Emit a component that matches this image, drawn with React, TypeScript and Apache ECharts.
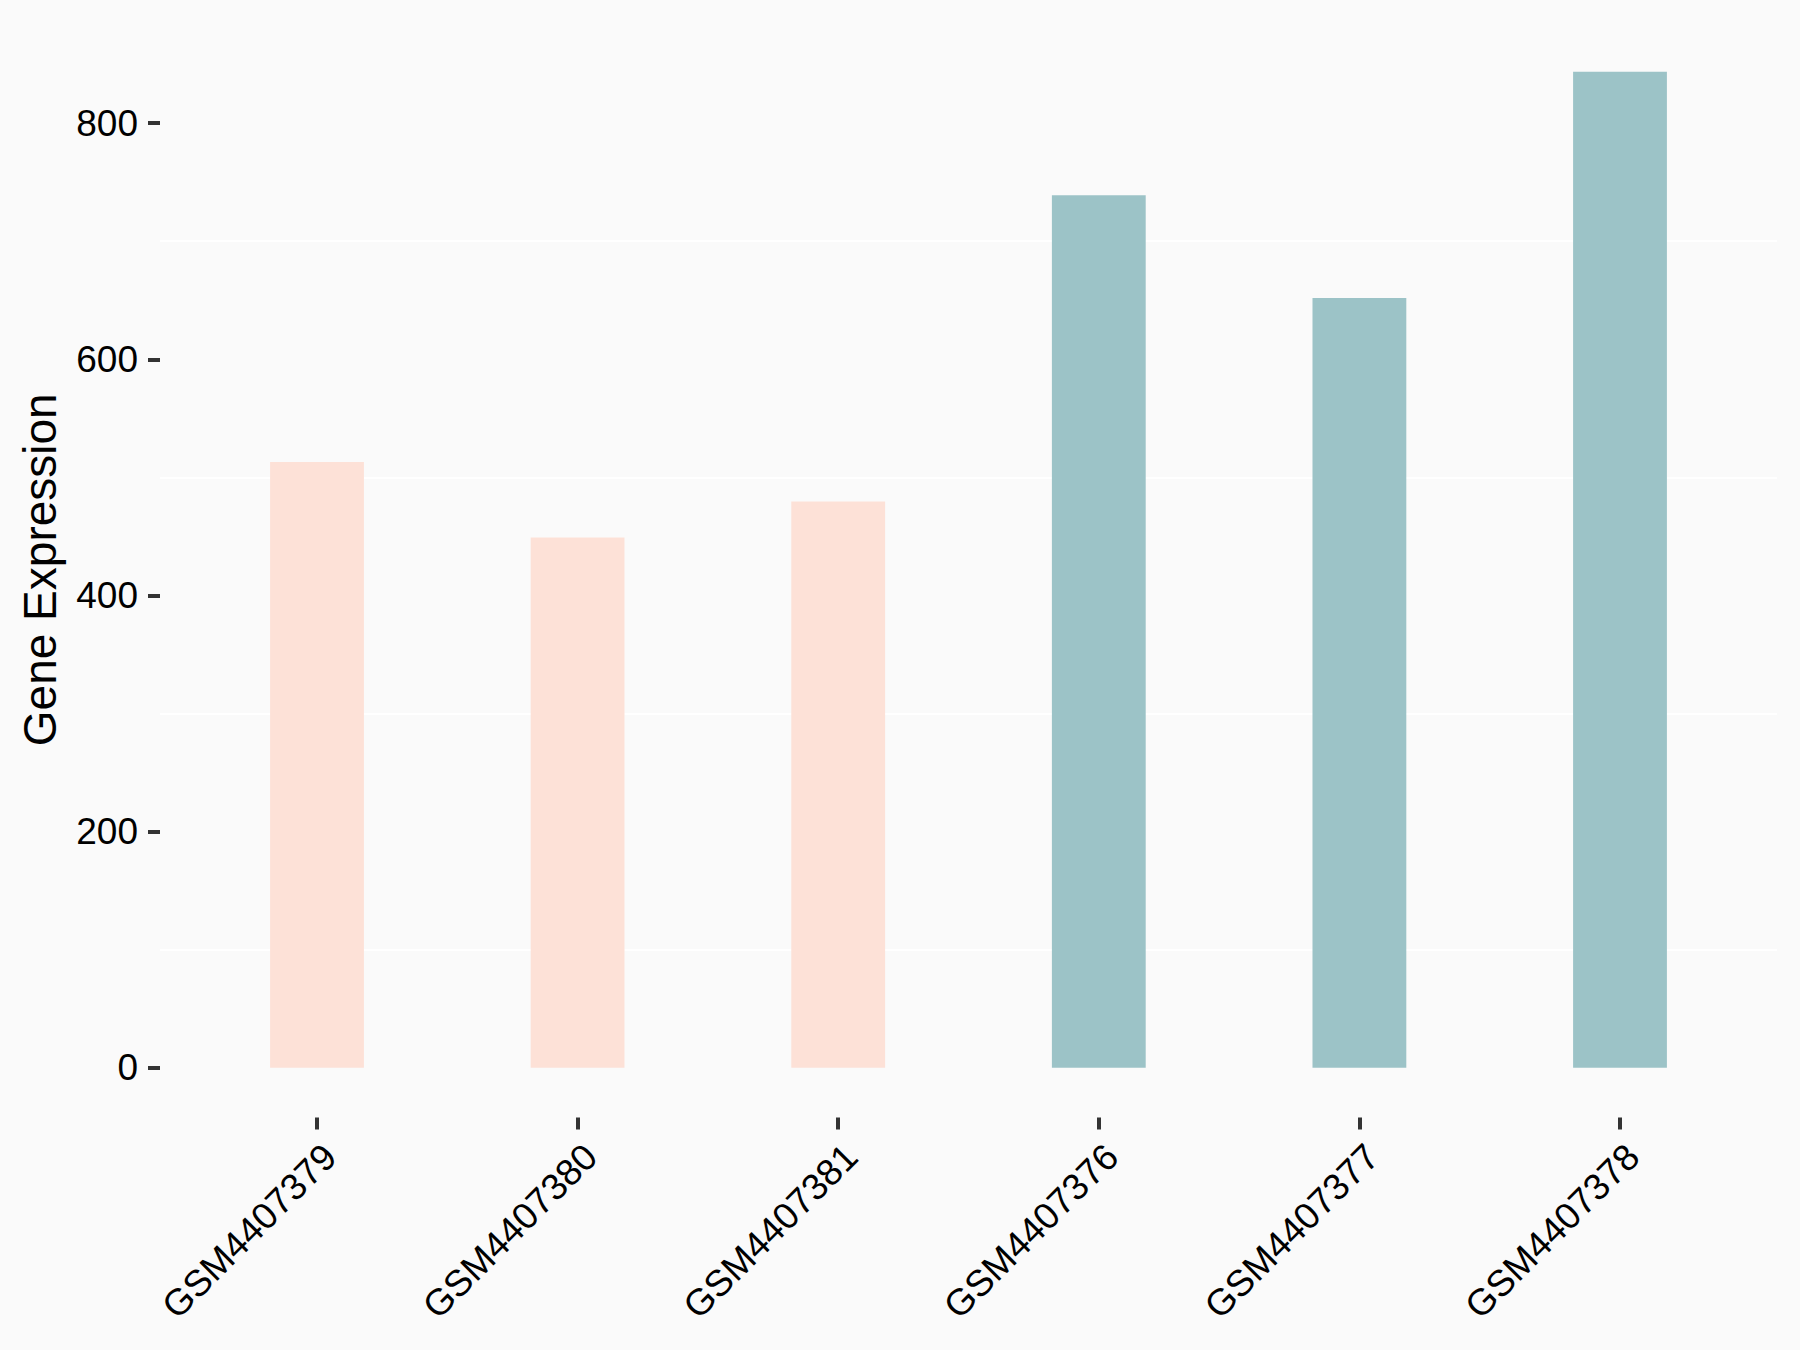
import React, { useEffect, useRef } from "react";
import * as echarts from "echarts";

const categories = ["GSM4407379", "GSM4407380", "GSM4407381", "GSM4407376", "GSM4407377", "GSM4407378"];
const values = [513, 449, 479.5, 739, 652, 843.5];
const groups = ["A", "A", "A", "B", "B", "B"];
const groupColors: Record<string, string> = { A: "#FDE1D7", B: "#9CC3C7" };
const yTickValues = [0, 200, 400, 600, 800];
const minorGridValues = [100, 300, 500, 700];
const yTitle = "Gene Expression";

export default function App() {
  const ref = useRef<HTMLDivElement>(null);
  useEffect(() => {
    document.body.style.margin = "0";
    document.body.style.background = "#FAFAFA";
    if (!ref.current) return;
    const chart = echarts.init(ref.current, undefined, { renderer: "svg" });
    const maxV = Math.max(...values);
    const yMax = maxV * 1.05;
    const yMin = -maxV * 0.05;
    const font = "'Liberation Sans', Arial, sans-serif";
    const top = 22;
    const bottom = 232.5;
    chart.setOption({
      animation: false,
      backgroundColor: "#FAFAFA",
      grid: [
        { left: 160, right: 23, top, bottom },
        { left: 186.7, right: 49.7, top, bottom },
      ],
      xAxis: [
        { gridIndex: 0, type: "value", min: 0, max: 1, show: false },
        {
          gridIndex: 1,
          type: "category",
          data: categories,
          axisLine: { show: false, onZero: false },
          axisTick: { show: true, alignWithLabel: true, length: 12, lineStyle: { color: "#333333", width: 4 } },
          axisLabel: {
            rotate: 45,
            margin: 20,
            align: "right",
            verticalAlign: "top",
            fontSize: 37,
            color: "#000000",
            fontFamily: font,
            interval: 0,
          },
          splitLine: { show: false },
        },
      ],
      yAxis: [
        {
          gridIndex: 0,
          type: "value",
          min: yMin,
          max: yMax,
          name: yTitle,
          nameLocation: "middle",
          nameGap: 97,
          nameTextStyle: { fontSize: 46, color: "#000000", fontFamily: font },
          axisLine: { show: false },
          axisTick: { show: true, length: 12, customValues: yTickValues, lineStyle: { color: "#333333", width: 4 } },
          axisLabel: { show: true, customValues: yTickValues, margin: 22, fontSize: 37, color: "#000000", fontFamily: font },
          splitLine: { show: false },
        },
        {
          gridIndex: 0,
          type: "value",
          min: yMin,
          max: yMax,
          axisLine: { show: false },
          axisTick: { show: false, customValues: minorGridValues },
          axisLabel: { show: false, customValues: minorGridValues },
          splitLine: { show: true, lineStyle: { color: "#FFFFFF", width: 2.2 } },
        },
        {
          gridIndex: 1,
          type: "value",
          min: yMin,
          max: yMax,
          show: false,
          splitLine: { show: false },
        },
      ],
      series: [
        {
          type: "bar",
          xAxisIndex: 1,
          yAxisIndex: 2,
          barWidth: "36%",
          data: values.map((v, i) => ({ value: v, itemStyle: { color: groupColors[groups[i]] } })),
        },
      ],
    });
    return () => chart.dispose();
  }, []);
  return <div ref={ref} style={{ width: 1800, height: 1350 }} />;
}
